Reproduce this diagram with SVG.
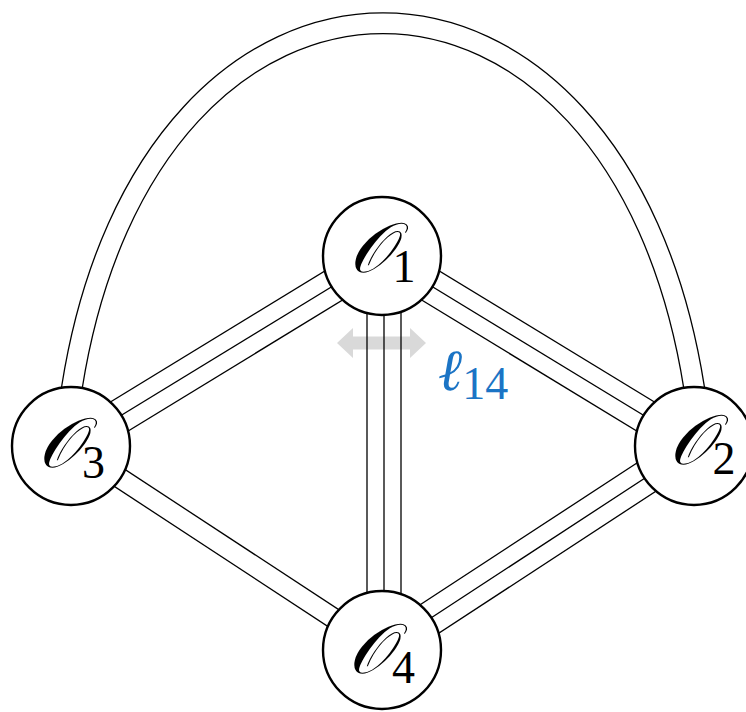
<svg xmlns="http://www.w3.org/2000/svg" width="746" height="712" viewBox="0 0 746 712">
  <style>
    .ln { stroke: #000; stroke-width: 1.3; fill: none; }
    .dblo { stroke: #000; stroke-width: 21.9; fill: none; }
    .dbli { stroke: #fff; stroke-width: 19.3; fill: none; }
    .node circle { fill: #fff; stroke: #000; stroke-width: 2.4; }
    .lbl { font-family: "Liberation Serif", "DejaVu Serif", serif; font-size: 70px; fill: #000; }
    .sub { font-size: 46px; font-style: normal; }
    .cal { font-style: italic; }
    .blue { font-family: "Liberation Serif", "DejaVu Serif", serif; font-size: 62px; fill: #1b74c5; }
  </style>
  <defs>
    <path id="arcpath" d="M 70.5 397 L 72 387 C 149 -98 617 -98 694 387 L 695.5 397"/>
  </defs>

  <g id="arrow-l14">
    <polygon fill="#d9d9d9" points="337,343 353,328 353,336.5 410,336.5 410,328 426,343 410,358 410,349.5 353,349.5 353,358"/>
  </g>

  <g id="connectors">
    <g id="e-o3-o2">
      <use href="#arcpath" class="dblo"/>
      <use href="#arcpath" class="dbli"/>
    </g>
    <g id="e-o1-o3">
      <line class="ln" x1="71" y1="446" x2="382" y2="256"/>
      <line class="ln" x1="79.86" y1="460.51" x2="390.86" y2="270.51"/>
      <line class="ln" x1="62.14" y1="431.49" x2="373.14" y2="241.49"/>
    </g>
    <g id="e-o1-o2">
      <line class="ln" x1="382" y1="256" x2="694" y2="446"/>
      <line class="ln" x1="373.16" y1="270.52" x2="685.16" y2="460.52"/>
      <line class="ln" x1="390.84" y1="241.48" x2="702.84" y2="431.48"/>
    </g>
    <g id="e-o1-o4">
      <line class="ln" x1="367" y1="256" x2="367" y2="650"/>
      <line class="ln" x1="384" y1="256" x2="384" y2="650"/>
      <line class="ln" x1="401" y1="256" x2="401" y2="650"/>
    </g>
    <g id="e-o3-o4">
      <line class="ln" x1="65.52" y1="454.36" x2="376.52" y2="658.36"/>
      <line class="ln" x1="76.49" y1="437.64" x2="387.49" y2="641.64"/>
    </g>
    <g id="e-o4-o2">
      <line class="ln" x1="382" y1="650" x2="694" y2="446"/>
      <line class="ln" x1="391.30" y1="664.23" x2="703.30" y2="460.23"/>
      <line class="ln" x1="372.70" y1="635.77" x2="684.70" y2="431.77"/>
    </g>
  </g>

  <g id="node-o1" class="node">
    <circle cx="382" cy="256" r="59"/>
    <text class="lbl" x="382" y="272" text-anchor="middle"><tspan class="cal">𝒪</tspan><tspan class="sub" dy="10">1</tspan></text>
  </g>
  <g id="node-o2" class="node">
    <circle cx="694" cy="446" r="59"/>
    <text class="lbl" x="702" y="464" text-anchor="middle"><tspan class="cal">𝒪</tspan><tspan class="sub" dy="10">2</tspan></text>
  </g>
  <g id="node-o3" class="node">
    <circle cx="71" cy="446" r="59"/>
    <text class="lbl" x="71.5" y="467" text-anchor="middle"><tspan class="cal">𝒪</tspan><tspan class="sub" dy="11">3</tspan></text>
  </g>
  <g id="node-o4" class="node">
    <circle cx="382" cy="650" r="59"/>
    <text class="lbl" x="381.5" y="673" text-anchor="middle"><tspan class="cal">𝒪</tspan><tspan class="sub" dy="10">4</tspan></text>
  </g>

  <g id="label-l14">
    <text class="blue" x="438" y="390"><tspan font-family="'DejaVu Serif', serif" font-style="italic" font-size="58">ℓ</tspan><tspan font-size="46" dy="9">14</tspan></text>
  </g>
</svg>
